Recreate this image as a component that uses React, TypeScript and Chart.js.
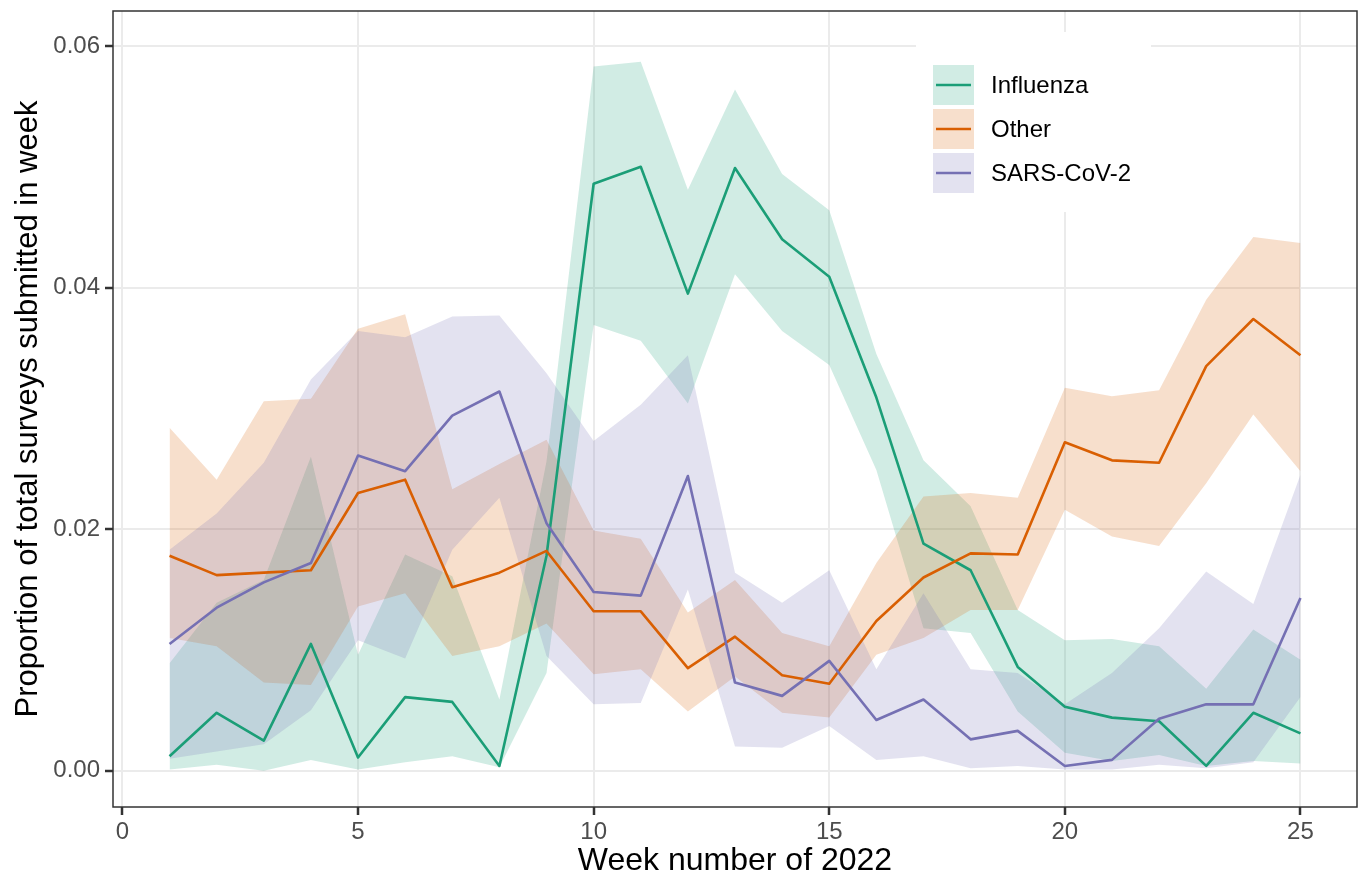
import React, { useEffect, useRef } from 'react';
import { Chart, registerables } from 'chart.js';

Chart.register(...registerables);

const weeks = [1, 2, 3, 4, 5, 6, 7, 8, 9, 10, 11, 12, 13, 14, 15, 16, 17, 18, 19, 20, 21, 22, 23, 24, 25];

const influenza = [0.0012, 0.0048, 0.0025, 0.0105, 0.0011, 0.0061, 0.0057, 0.0004, 0.0178, 0.0486, 0.0500, 0.0395, 0.0499, 0.0440, 0.0409, 0.0309, 0.0188, 0.0166, 0.0086, 0.0053, 0.0044, 0.0041, 0.0004, 0.0048, 0.0031];
const influenzaLower = [0.0001, 0.0005, 0.0000, 0.0009, 0.0001, 0.0007, 0.0012, 0.0003, 0.0081, 0.0369, 0.0356, 0.0304, 0.0411, 0.0364, 0.0336, 0.0249, 0.0118, 0.0114, 0.0049, 0.0015, 0.0008, 0.0013, 0.0004, 0.0008, 0.0006];
const influenzaUpper = [0.0089, 0.0139, 0.0158, 0.0260, 0.0096, 0.0179, 0.0161, 0.0059, 0.0256, 0.0583, 0.0587, 0.0481, 0.0564, 0.0494, 0.0464, 0.0345, 0.0257, 0.0219, 0.0133, 0.0108, 0.0109, 0.0103, 0.0068, 0.0117, 0.0092];

const other = [0.0178, 0.0162, 0.0164, 0.0166, 0.0230, 0.0241, 0.0152, 0.0164, 0.0182, 0.0132, 0.0132, 0.0085, 0.0111, 0.0079, 0.0072, 0.0124, 0.0160, 0.0180, 0.0179, 0.0272, 0.0257, 0.0255, 0.0335, 0.0374, 0.0344];
const otherLower = [0.0110, 0.0103, 0.0073, 0.0071, 0.0136, 0.0147, 0.0095, 0.0103, 0.0122, 0.0080, 0.0084, 0.0049, 0.0078, 0.0048, 0.0044, 0.0096, 0.0110, 0.0133, 0.0133, 0.0216, 0.0194, 0.0186, 0.0238, 0.0295, 0.0248];
const otherUpper = [0.0284, 0.0241, 0.0306, 0.0308, 0.0366, 0.0378, 0.0233, 0.0254, 0.0274, 0.0199, 0.0192, 0.0131, 0.0158, 0.0114, 0.0103, 0.0172, 0.0227, 0.0230, 0.0226, 0.0317, 0.0310, 0.0315, 0.0390, 0.0442, 0.0437];

const sars = [0.0105, 0.0135, 0.0156, 0.0172, 0.0261, 0.0248, 0.0294, 0.0314, 0.0205, 0.0148, 0.0145, 0.0244, 0.0073, 0.0062, 0.0091, 0.0042, 0.0059, 0.0026, 0.0033, 0.0004, 0.0009, 0.0043, 0.0055, 0.0055, 0.0143];
const sarsLower = [0.0010, 0.0016, 0.0022, 0.0050, 0.0108, 0.0093, 0.0183, 0.0226, 0.0095, 0.0055, 0.0056, 0.0150, 0.0020, 0.0019, 0.0037, 0.0009, 0.0012, 0.0002, 0.0004, 0.0001, 0.0001, 0.0005, 0.0002, 0.0007, 0.0061];
const sarsUpper = [0.0183, 0.0213, 0.0255, 0.0324, 0.0364, 0.0359, 0.0376, 0.0377, 0.0329, 0.0273, 0.0303, 0.0344, 0.0164, 0.0139, 0.0166, 0.0084, 0.0147, 0.0084, 0.0081, 0.0055, 0.0081, 0.0118, 0.0165, 0.0138, 0.0245];

const seriesNames = ['Influenza', 'Other', 'SARS-CoV-2'];
const seriesColors = ['#1B9E77', '#D95F02', '#7570B3'];
const xTicks = [0, 5, 10, 15, 20, 25];
const yTicks = [0, 0.02, 0.04, 0.06];
const xTitle = 'Week number of 2022';
const yTitle = 'Proportion of total surveys submitted in week';

const FONT = '"Liberation Sans", Arial, Helvetica, sans-serif';

function withAlpha(hex: string, a: number) {
  const r = parseInt(hex.slice(1, 3), 16);
  const g = parseInt(hex.slice(3, 5), 16);
  const b = parseInt(hex.slice(5, 7), 16);
  return `rgba(${r},${g},${b},${a})`;
}

function zeroPad(s: any) {
  s.paddingTop = 0;
  s.paddingBottom = 0;
  s.paddingLeft = 0;
  s.paddingRight = 0;
}

export default function App() {
  const ref = useRef<HTMLCanvasElement>(null);

  useEffect(() => {
    if (!ref.current) return;
    const pts = (arr: number[]) => weeks.map((w, i) => ({ x: w, y: arr[i] }));
    const mids = [influenza, other, sars];
    const lows = [influenzaLower, otherLower, sarsLower];
    const ups = [influenzaUpper, otherUpper, sarsUpper];

    const datasets: any[] = [];
    for (let i = 0; i < 3; i++) {
      datasets.push({
        label: seriesNames[i] + ' upper',
        data: pts(ups[i]),
        borderColor: 'rgba(0,0,0,0)',
        borderWidth: 0,
        pointRadius: 0,
        backgroundColor: withAlpha(seriesColors[i], 0.2),
        fill: '+1',
        order: 3 - i,
      });
      datasets.push({
        label: seriesNames[i] + ' lower',
        data: pts(lows[i]),
        borderColor: 'rgba(0,0,0,0)',
        borderWidth: 0,
        pointRadius: 0,
        fill: false,
        order: 3 - i,
      });
    }
    for (let i = 0; i < 3; i++) {
      datasets.push({
        label: seriesNames[i],
        data: pts(mids[i]),
        borderColor: seriesColors[i],
        borderWidth: 2.6,
        pointRadius: 0,
        fill: false,
        borderJoinStyle: 'round',
        order: 0.3 - i * 0.1,
      });
    }

    const panelPlugin = {
      id: 'panel',
      afterDatasetsDraw(chart: any) {
        const { ctx, chartArea } = chart;
        ctx.save();
        // legend
        const lx = 916, ly = 32, lw = 235, lh = 180;
        ctx.fillStyle = '#FFFFFF';
        ctx.fillRect(lx, ly, lw, lh);
        for (let i = 0; i < 3; i++) {
          const kx = 933, ky = 65 + i * 44, ks = 41, kh = 40;
          ctx.fillStyle = withAlpha(seriesColors[i], 0.2);
          ctx.fillRect(kx, ky, ks, kh);
          ctx.strokeStyle = seriesColors[i];
          ctx.lineWidth = 2.6;
          ctx.beginPath();
          ctx.moveTo(kx + 3, ky + kh / 2);
          ctx.lineTo(kx + ks - 3, ky + kh / 2);
          ctx.stroke();
          ctx.fillStyle = '#000000';
          ctx.font = `24px ${FONT}`;
          ctx.textAlign = 'left';
          ctx.textBaseline = 'middle';
          ctx.fillText(seriesNames[i], 991, ky + kh / 2 + 1);
        }
        // panel border
        ctx.strokeStyle = '#333333';
        ctx.lineWidth = 1.5;
        ctx.strokeRect(chartArea.left, chartArea.top, chartArea.right - chartArea.left, chartArea.bottom - chartArea.top);
        ctx.restore();
      },
    };

    const chart = new Chart(ref.current, {
      type: 'line',
      data: { datasets },
      options: {
        responsive: false,
        animation: false,
        events: [],
        layout: { padding: { top: 11, right: 6, left: 0, bottom: 0 } },
        plugins: { legend: { display: false }, tooltip: { enabled: false } },
        scales: {
          x: {
            type: 'linear',
            min: -0.2,
            max: 26.2,
            afterBuildTicks: (s: any) => { s.ticks = xTicks.map((v) => ({ value: v })); },
            afterFit: (s: any) => { s.height = 71; zeroPad(s); },
            grid: { color: '#EBEBEB', lineWidth: 2, tickColor: '#333333', tickLength: 8, tickWidth: 2.5 },
            border: { display: false },
            ticks: {
              font: { family: FONT, size: 24 },
              color: '#4D4D4D',
              padding: 3,
              maxRotation: 0,
              autoSkip: false,
              callback: (v: any) => String(v),
            },
            title: {
              display: true,
              text: xTitle,
              color: '#000000',
              font: { family: FONT, size: 32, lineHeight: 1 },
              padding: { top: 0, bottom: 1 },
            },
          },
          y: {
            type: 'linear',
            min: -0.003,
            max: 0.0629,
            afterBuildTicks: (s: any) => { s.ticks = yTicks.map((v) => ({ value: v })); },
            afterFit: (s: any) => { s.width = 113; zeroPad(s); },
            grid: { color: '#EBEBEB', lineWidth: 2, tickColor: '#333333', tickLength: 8, tickWidth: 2.5 },
            border: { display: false },
            ticks: {
              font: { family: FONT, size: 24 },
              color: '#4D4D4D',
              padding: 5,
              autoSkip: false,
              callback: (v: any) => Number(v).toFixed(2),
            },
            title: {
              display: true,
              text: yTitle,
              color: '#000000',
              font: { family: FONT, size: 31, lineHeight: 1 },
              padding: { top: 13, bottom: 0 },
            },
          },
        },
      },
      plugins: [panelPlugin],
    } as any);

    return () => chart.destroy();
  }, []);

  return (
    <div style={{ position: 'absolute', left: 0, top: 0, width: 1363, height: 878, background: '#FFFFFF' }}>
      <canvas ref={ref} width={1363} height={878} style={{ width: 1363, height: 878, display: 'block' }} />
    </div>
  );
}
